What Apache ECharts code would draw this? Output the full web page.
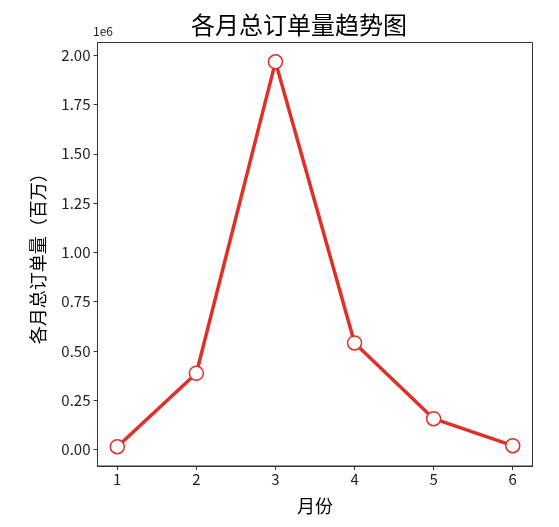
<!DOCTYPE html>
<html><head><meta charset="utf-8">
<script src="https://cdn.jsdelivr.net/npm/echarts@6/dist/echarts.min.js"></script>
<style>html,body{margin:0;padding:0;background:#fff}#c{width:559px;height:527px}</style>
</head><body><div id="c"></div>
<script>
const months = [1, 2, 3, 4, 5, 6];
const orders = [15000, 387000, 1966000, 541000, 157000, 20000];
const yTicks = [0, 250000, 500000, 750000, 1000000, 1250000, 1500000, 1750000, 2000000];
const xTicks = [1, 2, 3, 4, 5, 6];
const FONT = '"Noto Sans CJK SC", "Noto Sans", sans-serif';
const chart = echarts.init(document.getElementById('c'));
chart.setOption({
  animation: false,
  title: {text: '各月总订单量趋势图', left: 294, top: 8, textAlign: 'center',
    textStyle: {fontFamily: FONT, fontSize: 24, fontWeight: 'normal', color: '#000'}},
  grid: {left: 97.5, right: 26.5, top: 42.5, bottom: 61, show: true, borderColor: '#333', borderWidth: 1, backgroundColor: 'transparent'},
  graphic: [{type: 'text', left: 93, top: 25, style: {text: '1e6', font: '12px ' + FONT, fill: '#222'}}],
  xAxis: {type: 'value', min: 0.75, max: 6.25,
    name: '月份', nameLocation: 'middle', nameGap: 31,
    nameTextStyle: {fontFamily: FONT, fontSize: 18, color: '#000'},
    axisLine: {show: true, onZero: false, lineStyle: {color: '#333', width: 1}},
    axisTick: {show: true, length: 4, inside: false, customValues: xTicks, lineStyle: {color: '#333'}},
    axisLabel: {customValues: xTicks, fontFamily: FONT, fontSize: 15, color: '#222', margin: 6},
    splitLine: {show: false}},
  yAxis: {type: 'value', min: -83000, max: 2064000,
    name: '各月总订单量（百万）', nameLocation: 'middle', nameGap: 50,
    nameTextStyle: {fontFamily: FONT, fontSize: 18, color: '#000'},
    axisLine: {show: true, onZero: false, lineStyle: {color: '#333', width: 1}},
    axisTick: {show: true, length: 4, customValues: yTicks, lineStyle: {color: '#333'}},
    axisLabel: {customValues: yTicks, fontFamily: FONT, fontSize: 15, color: '#222', margin: 7,
      formatter: v => (v / 1e6).toFixed(2)},
    splitLine: {show: false}},
  series: [{type: 'line', data: months.map((m, i) => [m, orders[i]]),
    lineStyle: {color: '#e0302a', width: 3.5},
    symbol: 'circle', symbolSize: 14, showAllSymbol: true,
    itemStyle: {color: '#fff', borderColor: '#e0302a', borderWidth: 1.5}}]
});
</script></body></html>
